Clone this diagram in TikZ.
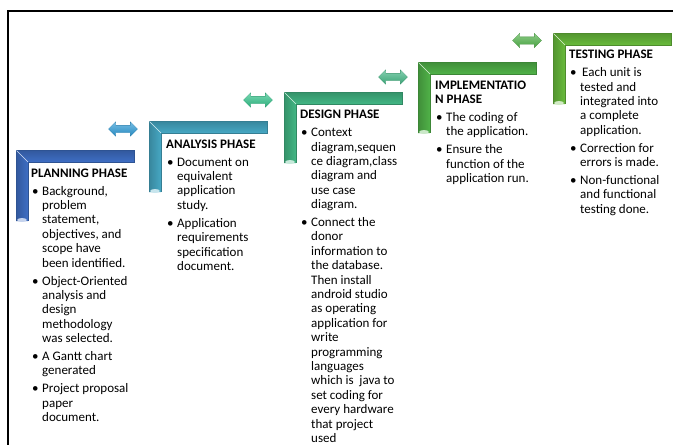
\documentclass[tikz,border=0pt]{standalone}
\usepackage{fontspec}
\setmainfont{Carlito}
\usetikzlibrary{shapes.arrows, positioning, calc}

\definecolor{planblue}{RGB}{62,110,196}
\definecolor{analteal}{RGB}{70,168,196}
\definecolor{desgreen}{RGB}{66,182,132}
\definecolor{impgreen}{RGB}{80,178,72}
\definecolor{testgreen}{RGB}{104,186,60}

% L-shaped phase bracket: x, y (top left), colour
\newcommand{\phasebracket}[3]{%
  \shade[top color=#3!80!black, middle color=#3!35!white, bottom color=#3]
    (#1,#2) -- (#1+118,#2) -- (#1+118,#2+12) -- (#1+12,#2+12) -- cycle;
  \shade[left color=#3!80!black, middle color=#3!35!white, right color=#3]
    (#1,#2) -- (#1+12,#2+12) -- (#1+12,#2+71) -- (#1,#2+71) -- cycle;
  \draw[#3!75!black, line width=0.5pt] (#1,#2+71) -- (#1,#2) -- (#1+118,#2) -- (#1+118,#2+12) -- (#1+12,#2+12) -- (#1+12,#2+71);
  \draw[#3!25!white, line width=0.5pt] (#1+0.5,#2+0.5) -- (#1+12,#2+12);
  \fill[#3!30!white] (#1+6,#2+70) ellipse [x radius=5, y radius=2];
}

\begin{document}
\begin{tikzpicture}[x=1pt, y=-1pt,
  every node/.style={font=\fontsize{13}{14.4}\selectfont},
  phase/.style={anchor=north west, inner sep=0pt, align=left},
  linkarrow/.style={double arrow, double arrow head extend=3.5pt, minimum width=0pt,
    minimum height=29pt, inner xsep=0pt, inner ysep=3.5pt, draw=#1!80!black, line width=0.3pt,
    top color=#1!65!white, bottom color=#1!90!black}
]
\useasboundingbox (0,0) rectangle (673,445);

% frame
\draw[line width=1.6pt] (8,445) -- (8,11) -- (673,11);

% brackets
\phasebracket{16}{150}{planblue}
\phasebracket{149}{121}{analteal}
\phasebracket{284}{92}{desgreen}
\phasebracket{418}{62}{impgreen}
\phasebracket{553}{33}{testgreen}

% links between phases
\node[linkarrow=planblue!70!cyan] (link1) at (123,129) {};
\node[linkarrow=analteal!70!green] (link2) at (258,100) {};
\node[linkarrow=desgreen] (link3) at (393,77) {};
\node[linkarrow=impgreen] (link4) at (527,40.5) {};

% phase texts
\node[phase] (planning) at (31,167) {\begin{tabular}{@{}p{11pt}@{}l@{}}
\multicolumn{2}{@{}l@{}}{\textbf{PLANNING PHASE}}\\[3.5pt]
\hspace{1pt}\textbullet & Background,\\ & problem\\ & statement,\\ & objectives, and\\ & scope have\\ & been identified.\\[3.5pt]
\hspace{1pt}\textbullet & Object-Oriented\\ & analysis and\\ & design\\ & methodology\\ & was selected.\\[3.5pt]
\hspace{1pt}\textbullet & A Gantt chart\\ & generated\\[3.5pt]
\hspace{1pt}\textbullet & Project proposal\\ & paper\\ & document.
\end{tabular}};

\node[phase] (analysis) at (166,138) {\begin{tabular}{@{}p{11pt}@{}l@{}}
\multicolumn{2}{@{}l@{}}{\textbf{ANALYSIS PHASE}}\\[3.5pt]
\hspace{1pt}\textbullet & Document on\\ & equivalent\\ & application\\ & study.\\[3.5pt]
\hspace{1pt}\textbullet & Application\\ & requirements\\ & specification\\ & document.
\end{tabular}};

\node[phase] (design) at (300,108.5) {\begin{tabular}{@{}p{11pt}@{}l@{}}
\multicolumn{2}{@{}l@{}}{\textbf{DESIGN PHASE}}\\[3.5pt]
\hspace{1pt}\textbullet & Context\\ & diagram,sequen\\ & ce diagram,class\\ & diagram and\\ & use case\\ & diagram.\\[3.5pt]
\hspace{1pt}\textbullet & Connect the\\ & donor\\ & information to\\ & the database.\\ & Then install\\ & android studio\\ & as operating\\ & application for\\ & write\\ & programming\\ & languages\\ & which is~ java to\\ & set coding for\\ & every hardware\\ & that project\\ & used
\end{tabular}};

\node[phase] (implementation) at (435,79) {\begin{tabular}{@{}p{11pt}@{}l@{}}
\multicolumn{2}{@{}l@{}}{\textbf{IMPLEMENTATIO}}\\
\multicolumn{2}{@{}l@{}}{\textbf{N PHASE}}\\[3.5pt]
\hspace{1pt}\textbullet & The coding of\\ & the application.\\[3.5pt]
\hspace{1pt}\textbullet & Ensure the\\ & function of the\\ & application run.
\end{tabular}};

\node[phase] (testing) at (569,48.5) {\begin{tabular}{@{}p{11pt}@{}l@{}}
\multicolumn{2}{@{}l@{}}{\textbf{TESTING PHASE}}\\[3.5pt]
\hspace{1pt}\textbullet & \hspace{2pt}Each unit is\\ & tested and\\ & integrated into\\ & a complete\\ & application.\\[3.5pt]
\hspace{1pt}\textbullet & Correction for\\ & errors is made.\\[3.5pt]
\hspace{1pt}\textbullet & Non-functional\\ & and functional\\ & testing done.
\end{tabular}};
\end{tikzpicture}
\end{document}
